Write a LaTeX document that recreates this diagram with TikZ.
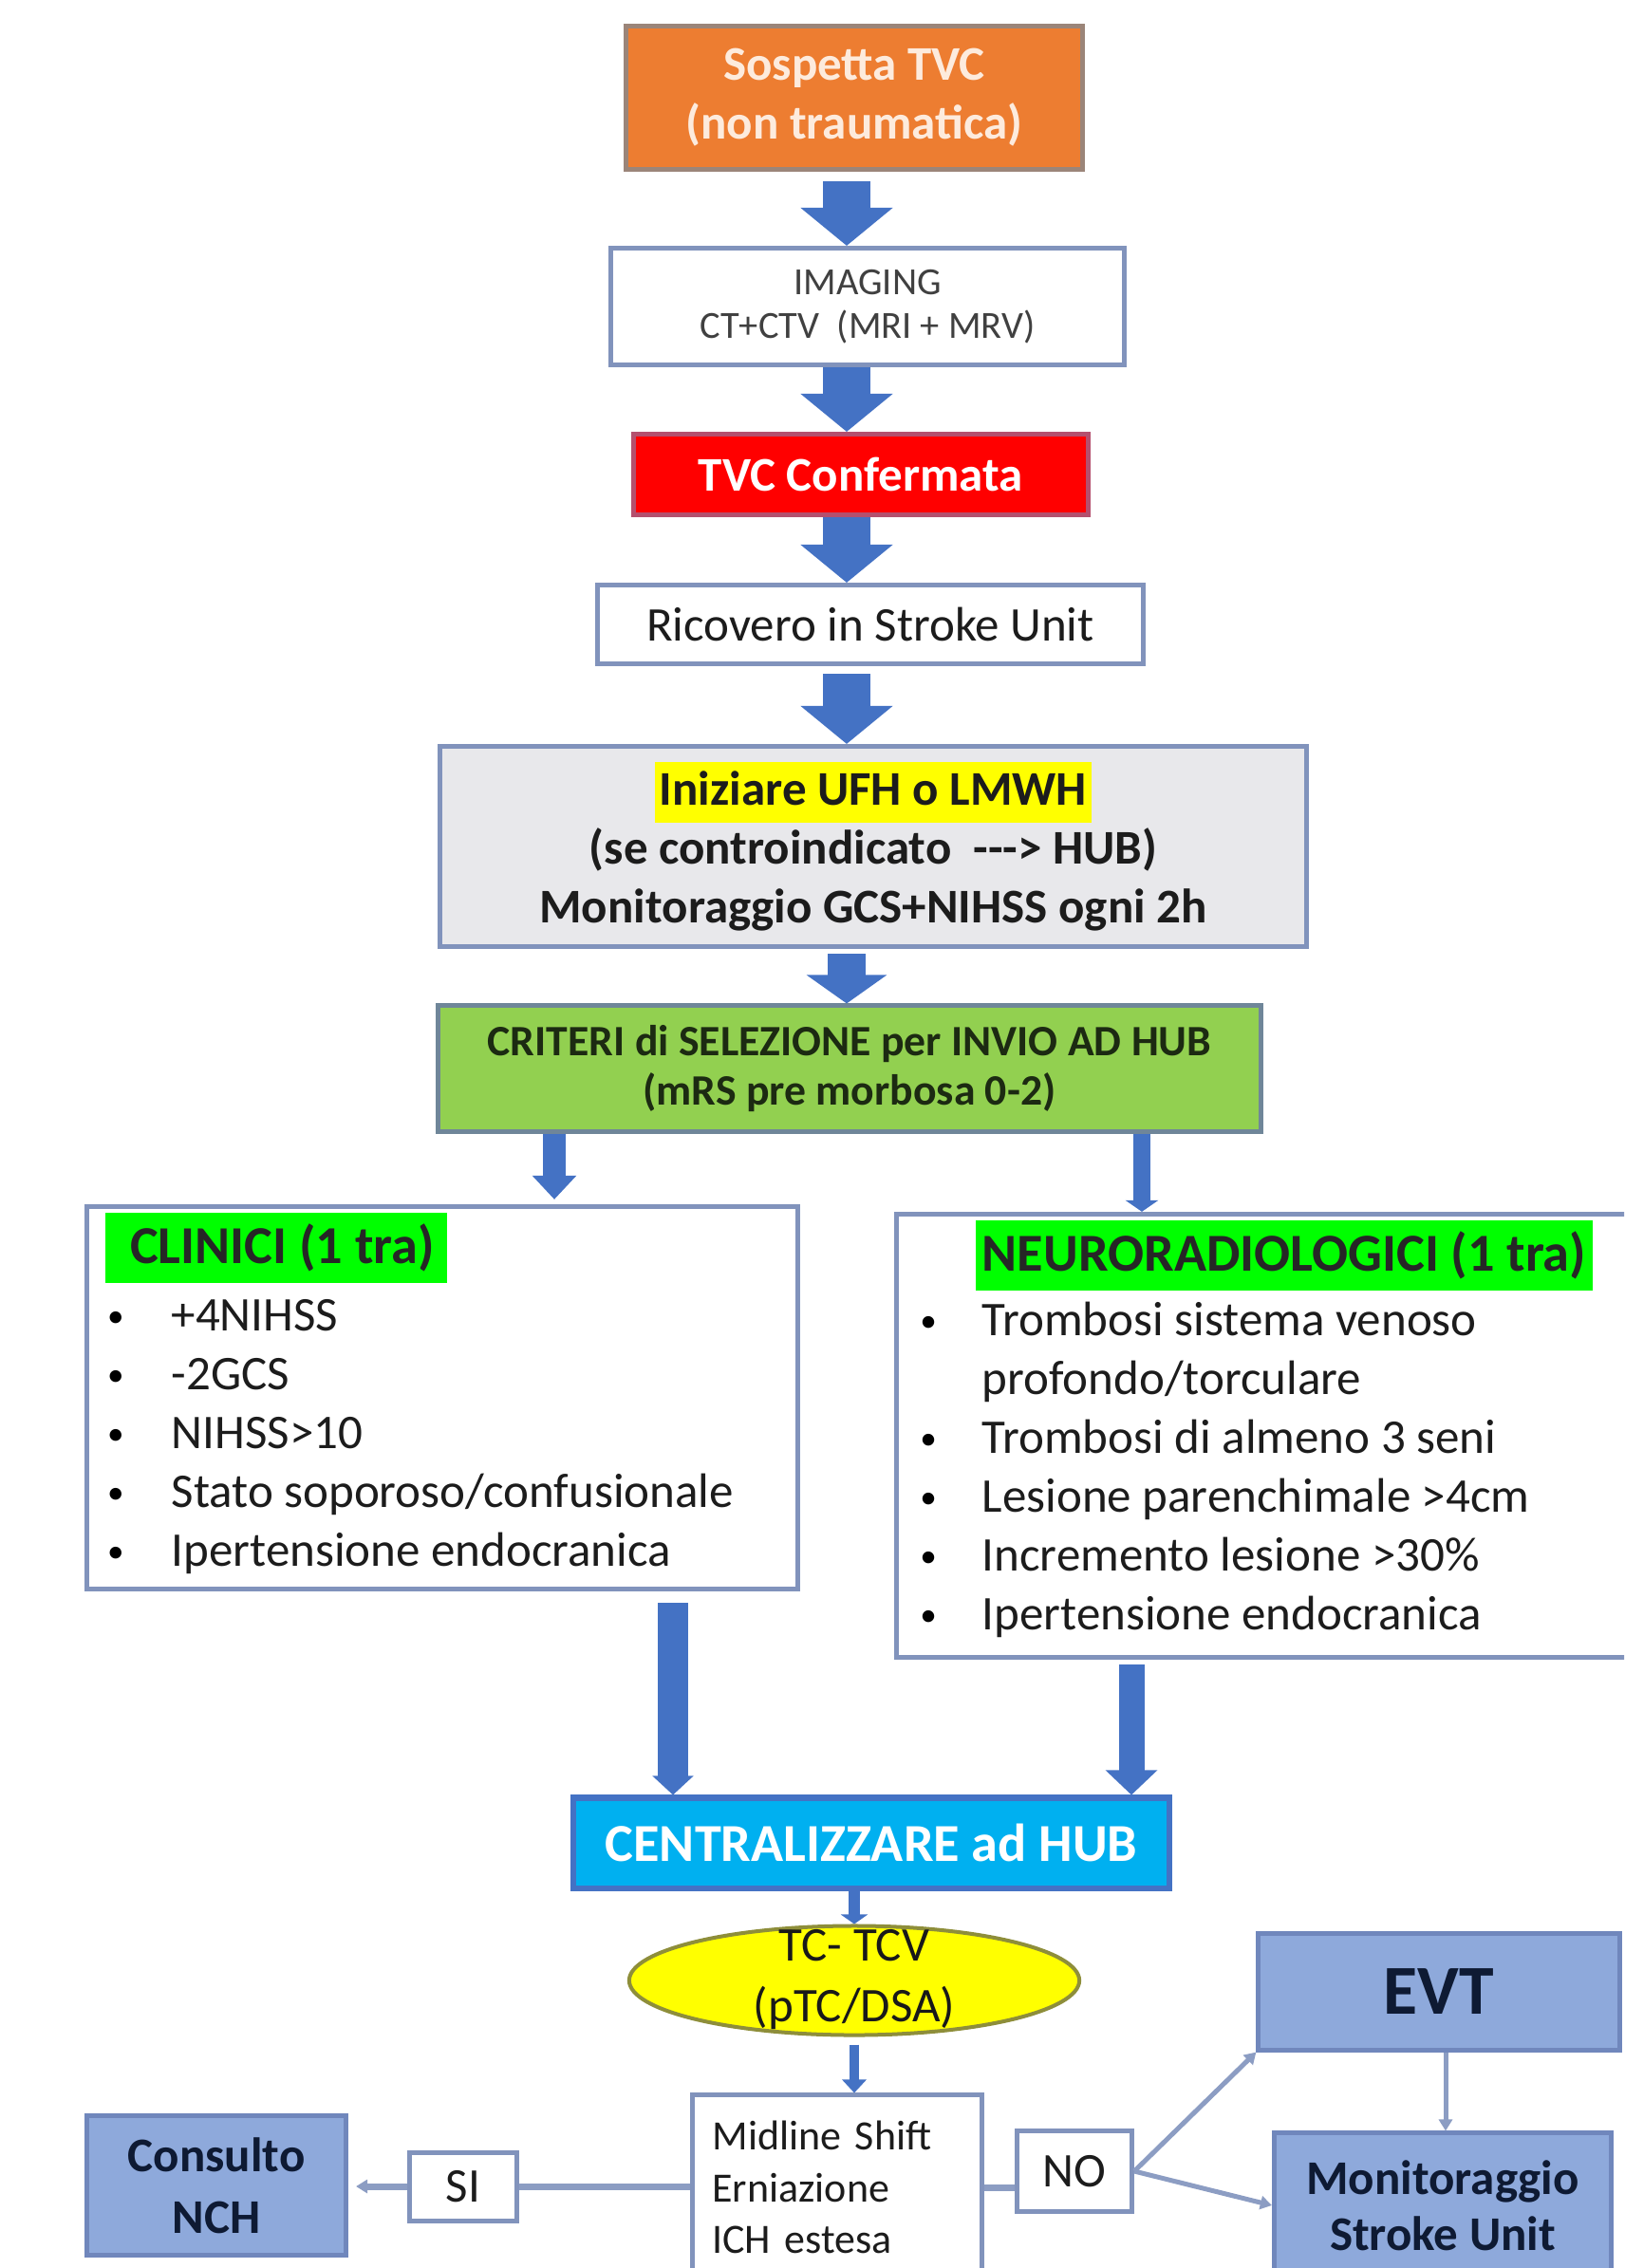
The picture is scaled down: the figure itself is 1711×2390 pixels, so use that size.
\documentclass[tikz,border=0pt]{standalone}
\usepackage{fontspec}
\setmainfont{Carlito}
\usetikzlibrary{arrows.meta, shapes.geometric}

\definecolor{arrowblue}{HTML}{4472C4}
\definecolor{boxline}{HTML}{8193BC}
\definecolor{ink}{HTML}{1C1C1C}
\definecolor{tvcorange}{HTML}{ED7D31}
\definecolor{orangeline}{HTML}{9B8579}
\definecolor{cream}{HTML}{FDEBDD}
\definecolor{tvcred}{HTML}{FF0000}
\definecolor{redline}{HTML}{B4506E}
\definecolor{lightgrey}{HTML}{E8E8EB}
\definecolor{hlyellow}{HTML}{FFFF00}
\definecolor{critgreen}{HTML}{92D050}
\definecolor{critline}{HTML}{6F8699}
\definecolor{critink}{HTML}{1C2A12}
\definecolor{hlgreen}{HTML}{00FF00}
\definecolor{hubblue}{HTML}{00B0F0}
\definecolor{ellipseline}{HTML}{8E8E3A}
\definecolor{evtfill}{HTML}{8EA9DB}
\definecolor{evtline}{HTML}{7087BC}
\definecolor{navy}{HTML}{0E1A33}
\definecolor{connline}{HTML}{8C9DC3}

\begin{document}
\begin{tikzpicture}[x=0.01cm, y=-0.01cm]
    \tikzstyle{box}=[rectangle, draw=boxline, line width=0.05cm, fill=white,
        inner sep=0pt, align=center, text=ink]
    \tikzstyle{bluebox}=[box, draw=evtline, fill=evtfill, text=navy]
    \tikzstyle{hilite}=[rectangle, fill=hlgreen, inner sep=0pt, text=black!85,
        font=\fontsize{16}{19}\selectfont\bfseries]
    \tikzstyle{blockarrow}=[arrowblue, line cap=butt]
    \tikzstyle{fat}=[blockarrow, line width=0.49cm,
        -{Triangle[width=0.95cm, length=0.4cm]}]
    \tikzstyle{connector}=[connline, line width=0.05cm]
    \tikzstyle{tip}=[-{Triangle[width=0.14cm, length=0.12cm]}]
    \tikzstyle{item}=[anchor=base west, inner sep=0pt, text=ink,
        font=\fontsize{14.5}{17.6}\selectfont]
    \tikzstyle{dot}=[anchor=base, inner sep=0pt, text=black,
        font=\fontsize{10}{12}\selectfont]

    \useasboundingbox (0,0) rectangle (1711,2390);
    \clip (0,0) rectangle (1711,2390);

    % main column
    \node [box, fill=tvcorange, draw=orangeline, text=cream,
        minimum width=4.8cm, minimum height=1.5cm,
        font=\fontsize{14.5}{17.6}\selectfont\bfseries]
        (sosp) at (900,103) {Sospetta TVC\\(non traumatica)};
    \node [box, minimum width=5.4cm, minimum height=1.23cm, text=black!75,
        font=\fontsize{11.5}{13.1}\selectfont]
        (imag) at (914,323) {IMAGING\\CT+CTV\ \ (MRI + MRV)};
    \node [box, fill=tvcred, draw=redline, text=white,
        minimum width=4.79cm, minimum height=0.85cm,
        font=\fontsize{14.5}{17.6}\selectfont\bfseries]
        (conf) at (907,500) {TVC Confermata};
    \node [box, minimum width=5.74cm, minimum height=0.83cm,
        font=\fontsize{14.5}{17.6}\selectfont]
        (ric) at (917,658) {Ricovero in Stroke Unit};
    \node [box, fill=lightgrey, minimum width=9.12cm, minimum height=2.11cm,
        font=\fontsize{14.5}{17.6}\selectfont\bfseries]
        (iniz) at (920,892)
        {{\setlength{\fboxsep}{1.5pt}\colorbox{hlyellow}{\rule[-0.25em]{0pt}{1.05em}Iniziare UFH o LMWH}}\\
         (se controindicato\ \ -{}-{}-> HUB)\\
         Monitoraggio GCS+NIHSS ogni 2h};
    \node [box, fill=critgreen, draw=critline, text=critink,
        minimum width=8.67cm, minimum height=1.32cm,
        font=\fontsize{13}{15}\selectfont\bfseries]
        (crit) at (895,1126) {CRITERI di SELEZIONE per INVIO AD HUB\\(mRS pre morbosa 0-2)};

    % criteria boxes
    \node [box, minimum width=7.48cm, minimum height=4.03cm] (clin) at (466,1473) {};
    \node [box, minimum width=8.15cm, minimum height=4.67cm] (neuro) at (1352,1513) {};
    \node [hilite, minimum width=3.6cm, minimum height=0.74cm] (clhead) at (291,1315)
        {\ CLINICI (1 tra)};
    \node [hilite, minimum width=6.49cm, minimum height=0.73cm] (nrhead) at (1353,1323)
        {NEURORADIOLOGICI (1 tra)};

    \foreach \txt [count=\i] in {+4NIHSS, -2GCS, NIHSS>10,
            Stato soporoso/confusionale, Ipertensione endocranica}
    {
        \node [dot] (cd-\i) at (122, 1336+\i*62) {\textbullet};
        \node [item] (cl-\i) at (180, 1340+\i*62) {\txt};
    }

    \foreach \txt [count=\i] in {Trombosi sistema venoso, profondo/torculare,
            Trombosi di almeno 3 seni, Lesione parenchimale >4cm,
            Incremento lesione >30\%, Ipertensione endocranica}
        \node [item] (nr-\i) at (1034, 1345+\i*62) {\txt};
    \foreach \i in {1, 3, 4, 5, 6}
        \node [dot] (nd-\i) at (978, 1341+\i*62) {\textbullet};

    % hub and bottom row
    \node [box, fill=hubblue, draw=arrowblue, line width=0.06cm, text=white,
        minimum width=6.27cm, minimum height=0.95cm,
        font=\fontsize{16}{19}\selectfont\bfseries]
        (cent) at (918,1942) {CENTRALIZZARE ad HUB};
    \node [ellipse, draw=ellipseline, line width=0.04cm, fill=hlyellow,
        minimum width=4.74cm, minimum height=1.15cm, inner sep=0pt]
        (tc) at (900,2087) {};
    \node [align=center, inner sep=0pt, text=black!90,
        font=\fontsize{14.5}{18.2}\selectfont]
        (tctxt) at (900,2086) {TC- TCV\\(pTC/DSA)};
    \node [box, minimum width=3.05cm, minimum height=1.94cm, inner xsep=0.21cm,
        text width=2.63cm, align=left, font=\fontsize{12.5}{15.6}\selectfont]
        (mid) at (882,2305) {Midline Shift\\Erniazione\\ICH estesa};
    \node [box, minimum width=1.12cm, minimum height=0.72cm,
        font=\fontsize{14.5}{17.6}\selectfont]
        (si) at (488,2304) {SI};
    \node [box, minimum width=1.21cm, minimum height=0.85cm,
        font=\fontsize{14.5}{17.6}\selectfont]
        (no) at (1132,2288) {NO};
    \node [bluebox, minimum width=2.73cm, minimum height=1.47cm,
        font=\fontsize{14.5}{18.5}\selectfont\bfseries]
        (cons) at (228,2303) {Consulto\\NCH};
    \node [bluebox, minimum width=3.8cm, minimum height=1.22cm,
        font=\fontsize{21}{25}\selectfont\bfseries]
        (evt) at (1516,2099) {EVT};
    \node [bluebox, minimum width=3.55cm, minimum height=1.52cm,
        font=\fontsize{14.5}{16.8}\selectfont\bfseries]
        (mon) at (1520,2324) {Monitoraggio\\Stroke Unit};

    % block arrows
    \coordinate (spine) at (892,0);
    \coordinate (colL) at (584,0);
    \coordinate (colR) at (1203,0);
    \coordinate (downL) at (709,0);
    \coordinate (downR) at (1192,0);

    \draw [fat, shorten <=0.1cm] (sosp.south -| spine) -- (imag.north -| spine);
    \draw [fat] (imag.south -| spine) -- (conf.north -| spine);
    \draw [fat] (conf.south -| spine) -- (ric.north -| spine);
    \draw [fat, shorten <=0.08cm] (ric.south -| spine) -- (iniz.north -| spine);
    \draw [blockarrow, line width=0.4cm, -{Triangle[width=0.83cm, length=0.3cm]},
        shorten <=0.05cm] (iniz.south -| spine) -- (crit.north -| spine);
    \draw [blockarrow, line width=0.23cm, -{Triangle[width=0.45cm, length=0.25cm]},
        shorten >=0.05cm] (crit.south -| colL) -- (clin.north -| colL);
    \draw [blockarrow, line width=0.18cm, -{Triangle[width=0.34cm, length=0.12cm]}]
        (crit.south -| colR) -- (neuro.north -| colR);
    \draw [blockarrow, line width=0.31cm, -{Triangle[width=0.42cm, length=0.2cm]},
        shorten <=0.12cm] (clin.south -| downL) -- (cent.north -| downL);
    \draw [blockarrow, line width=0.27cm, -{Triangle[width=0.53cm, length=0.26cm]},
        shorten <=0.05cm] (neuro.south -| downR) -- (cent.north -| downR);
    \draw [blockarrow, line width=0.12cm, -{Triangle[width=0.28cm, length=0.1cm]}]
        (cent.south -| tc) -- (tc.north);
    \draw [blockarrow, line width=0.1cm, -{Triangle[width=0.25cm, length=0.14cm]},
        shorten <=0.08cm] (tc.south) -- (mid.north -| tc);

    % decision connectors
    \draw [connector, line width=0.07cm] (mid.west |- si) -- (si.east);
    \draw [connector, line width=0.07cm, tip, shorten >=0.08cm] (si.west) -- (cons.east |- si);
    \draw [connector, line width=0.07cm] (mid.east) -- (no.west |- mid.east);
    \draw [connector, tip] (no.east) -- (evt.south west);
    \draw [connector, tip] (no.east) -- (mon.west);
    \draw [connector, tip] (evt.south -| 1523,0) -- (mon.north -| 1523,0);
\end{tikzpicture}
\end{document}
